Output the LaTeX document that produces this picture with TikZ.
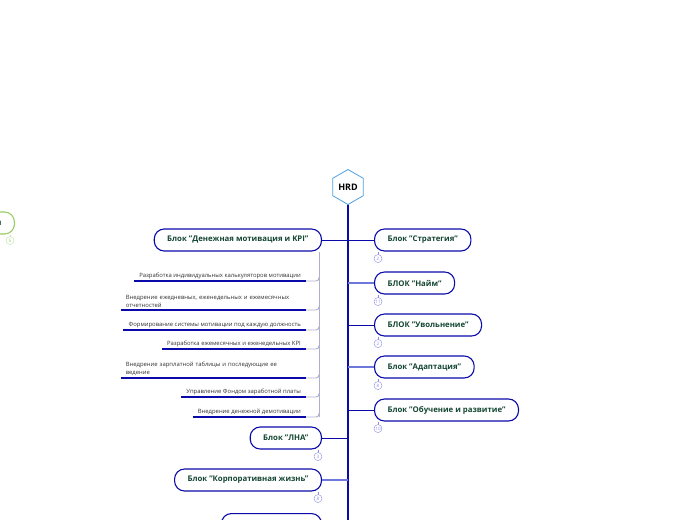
\documentclass[tikz,border=0pt]{standalone}
\usepackage{fontspec}
\setmainfont{Open Sans}
\usetikzlibrary{shapes.geometric, positioning, calc}
\definecolor{navy}{RGB}{10, 10, 170}
\definecolor{hexblue}{RGB}{80, 160, 225}
\definecolor{textgreen}{RGB}{20, 70, 50}
\definecolor{lightlink}{RGB}{110, 120, 220}
\definecolor{badgeblue}{RGB}{140, 140, 230}
\definecolor{leafgreen}{RGB}{150, 205, 100}
\definecolor{greyline}{RGB}{175, 175, 205}
\definecolor{itemgrey}{RGB}{50, 50, 50}

\begin{document}
\begin{tikzpicture}[x=1pt, y=-1pt,
            hub/.style={regular polygon, regular polygon sides=6, shape border rotate=30, draw=hexblue, thick, fill=white, minimum size=35pt, inner sep=0pt, font=\fontsize{9}{10}\selectfont\bfseries},
            blok/.style={draw=navy, line width=1.1pt, rounded corners=10pt, fill=white, minimum height=22pt, inner xsep=13pt, text=textgreen, font=\fontsize{7.8}{9}\selectfont\bfseries},
            badge/.style={circle, draw=badgeblue, fill=white, minimum size=8pt, inner sep=0pt, text=badgeblue, font=\fontsize{4.5}{4.5}\selectfont},
            subitem/.style={inner xsep=5pt, inner ysep=2pt, text=itemgrey, font=\fontsize{5.9}{8.5}\selectfont},
            trunk/.style={navy, line width=1.8pt},
            link/.style={navy, line width=0.8pt, rounded corners=3pt},
            softlink/.style={lightlink, line width=1.6pt, rounded corners=3pt},
            underline/.style={navy, line width=1.2pt},
            subtrunk/.style={greyline, line width=0.9pt, rounded corners=3pt}
        ]
            \useasboundingbox (0,0) rectangle (697,520);
            \clip (0,0) rectangle (697,520);

            % trunk
            \node[hub] (hrd) at (348,187) {HRD};
            \coordinate (trunkend) at (348,530);
            \draw[trunk] (hrd.south) -- (trunkend);

            % right side
            \node[blok, anchor=west] (strat) at (374,240) {Блок "Стратегия"};
            \node[blok, anchor=west] (naim) at (374,283) {БЛОК "Найм"};
            \node[blok, anchor=west] (uvol) at (374,325) {БЛОК "Увольнение"};
            \node[blok, anchor=west] (adapt) at (374,367) {Блок "Адаптация"};
            \node[blok, anchor=west] (learn) at (374,410) {Блок "Обучение и развитие"};

            \draw[link] (strat.west -| trunkend) -- (strat.west);
            \draw[softlink] (naim.west -| trunkend) -- (naim.west);
            \draw[link] (uvol.west -| trunkend) -- (uvol.west);
            \draw[softlink] (adapt.west -| trunkend) -- (adapt.west);
            \draw[link] (learn.west -| trunkend) -- (learn.west);

            % left side
            \node[blok, anchor=east] (kpi) at (322,240) {Блок "Денежная мотивация и KPI"};
            \node[blok, anchor=east] (lna) at (322,438) {Блок "ЛНА"};
            \node[blok, anchor=east] (corp) at (322,480) {Блок "Корпоративная жизнь"};
            \node[blok, anchor=north east, minimum width=100pt] (last) at (322,513) {БЛОК "Льготы"};

            \draw[link] (kpi.east -| trunkend) -- (kpi.east);
            \draw[link] (lna.east -| trunkend) -- (lna.east);
            \draw[softlink] (corp.east -| trunkend) -- (corp.east);
            \draw[link] (last.east -| trunkend) -- (last.east);

            % money motivation sub-items
            \coordinate (kpiv) at ([xshift=-3pt]kpi.south east);
            \node[subitem, anchor=south east] (m1) at (306,281) {Разработка индивидуальных калькуляторов мотивации};
            \node[subitem, anchor=south east, text width=175pt, align=left] (m2) at (306,310) {Внедрение ежедневных, еженедельных и ежемесячных\\отчетностей};
            \node[subitem, anchor=south east] (m3) at (306,330) {Формирование системы мотивации под каждую должность};
            \node[subitem, anchor=south east] (m4) at (306,349) {Разработка ежемесячных и еженедельных KPI};
            \node[subitem, anchor=south east, text width=175pt, align=left] (m5) at (306,378) {Внедрение зарплатной таблицы и последующие ее\\ведение};
            \node[subitem, anchor=south east] (m6) at (306,397) {Управление Фондом заработной платы};
            \node[subitem, anchor=south east] (m7) at (306,417) {Внедрение денежной демотивации};

            \draw[subtrunk] (kpiv) -- (kpiv |- m7.south);
            \foreach \m in {m1,m2,m3,m4,m5,m6,m7} {
                \draw[subtrunk] (\m.south east) -- (\m.south -| kpiv) -- ++(0,-4);
                \draw[underline] (\m.south west) -- (\m.south east);
            }

            % badges
            \foreach \b/\n in {strat/2, naim/11, uvol/2, adapt/8, learn/10} {
                \draw[badgeblue, line width=0.6pt] ($(\b.south west)+(4,0)$) -- ($(\b.south west)+(4,3)$);
                \node[badge] at ($(\b.south west)+(4,7)$) {\n};
            }
            \foreach \b/\n in {lna/3, corp/8} {
                \draw[badgeblue, line width=0.6pt] ($(\b.south east)+(-4,0)$) -- ($(\b.south east)+(-4,3)$);
                \node[badge] at ($(\b.south east)+(-4,7)$) {\n};
            }

            % cut-off node on the far left
            \node[blok, draw=leafgreen, anchor=east, text width=50pt, align=right] (side) at (15,223) {я};
            \draw[leafgreen!60, line width=0.6pt] ($(side.south east)+(-5,0)$) -- ($(side.south east)+(-5,2)$);
            \node[badge, draw=leafgreen!60, text=leafgreen] at ($(side.south east)+(-5,6)$) {5};
        \end{tikzpicture}
\end{document}
